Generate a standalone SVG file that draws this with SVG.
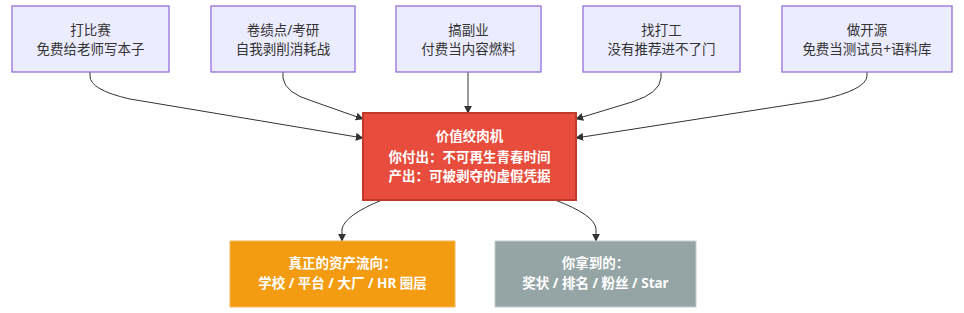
<svg xmlns="http://www.w3.org/2000/svg" width="964" height="313" viewBox="0 0 964 313">
<style>
  .top rect { fill: #ECECFF; stroke: #9370DB; stroke-width: 1.3; }
  .top text { fill: #333; font-size: 13.5px; }
  text { font-family: "Noto Sans", "Noto Sans CJK SC", sans-serif; text-anchor: middle; }
  .w text { fill: #fff; font-weight: bold; font-size: 13.5px; }
  .edge { fill: none; stroke: #333; stroke-width: 1; marker-end: url(#arr); }
</style>
<defs>
  <marker id="arr" viewBox="0 0 10 10" refX="9" refY="5" markerWidth="8" markerHeight="8" orient="auto" markerUnits="userSpaceOnUse">
    <path d="M0,0 L10,5 L0,10 z" fill="#333"/>
  </marker>
</defs>
<rect width="964" height="313" fill="#fff"/>
<g id="edges">
  <path class="edge" d="M90,72 L90,76 Q90,90 130,99 L363,138"/>
  <path class="edge" d="M283,72 L283,78 Q285,93 312,101 L363,119"/>
  <path class="edge" d="M468,72 L468,113"/>
  <path class="edge" d="M661,72 L661,78 Q660,93 632,102 L576,119"/>
  <path class="edge" d="M867,72 L867,76 Q866,90 820,100 L576,138"/>
  <path class="edge" d="M382,200 Q345,215 342,229 L342,241"/>
  <path class="edge" d="M555,200 Q595,215 596,229 L596,241"/>
</g>
<g id="n1" class="top"><rect x="12" y="6" width="157" height="66"/><text x="90.5" y="35">打比赛</text><text x="90.5" y="54">免费给老师写本子</text></g>
<g id="n2" class="top"><rect x="211" y="6" width="144" height="66"/><text x="283" y="35">卷绩点/考研</text><text x="283" y="54">自我剥削消耗战</text></g>
<g id="n3" class="top"><rect x="396" y="6" width="145" height="66"/><text x="468.5" y="35">搞副业</text><text x="468.5" y="54">付费当内容燃料</text></g>
<g id="n4" class="top"><rect x="583" y="6" width="157" height="66"/><text x="661.5" y="35">找打工</text><text x="661.5" y="54">没有推荐进不了门</text></g>
<g id="n5" class="top"><rect x="782" y="6" width="170" height="66"/><text x="867" y="35">做开源</text><text x="867" y="54">免费当测试员+语料库</text></g>
<g id="center" class="w"><rect x="363" y="113" width="213" height="87" fill="#E74C3C" stroke="#C0392B" stroke-width="2"/><text x="469.5" y="141">价值绞肉机</text><text x="469.5" y="162">你付出：不可再生青春时间</text><text x="469.5" y="181">产出：可被剥夺的虚假凭据</text></g>
<g id="assets" class="w"><rect x="230" y="241" width="225" height="66" fill="#F39C12" stroke="#F5B75A" stroke-width="1"/><text x="342.5" y="268">真正的资产流向：</text><text x="342.5" y="288">学校 / 平台 / 大厂 / HR 圈层</text></g>
<g id="you" class="w"><rect x="495" y="241" width="201" height="66" fill="#95A5A6" stroke="#C4CDCE" stroke-width="1"/><text x="595.5" y="268">你拿到的：</text><text x="595.5" y="288">奖状 / 排名 / 粉丝 / Star</text></g>
</svg>
